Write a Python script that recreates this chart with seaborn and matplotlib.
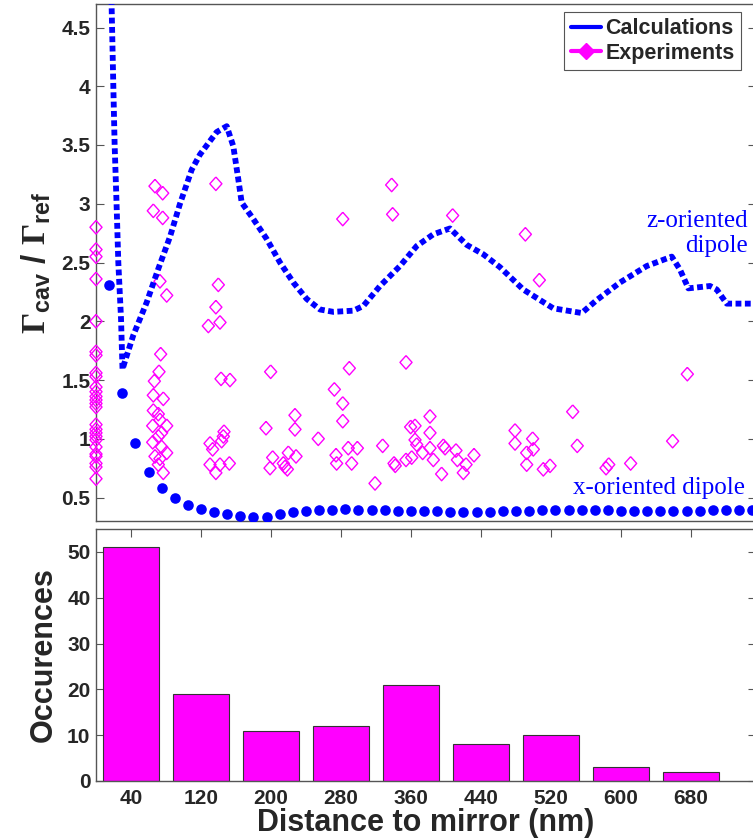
import matplotlib
matplotlib.use("Agg")
import matplotlib.pyplot as plt
from matplotlib.lines import Line2D
import seaborn as sns
import pandas as pd

# z-oriented dipole, calculations (nm, Gamma_cav / Gamma_ref)
z_dist = [16, 17.8, 19.8, 21.3, 23.5, 25.5, 28.6, 30.3, 33.1, 42.6, 57.9, 70.9, 84.6, 96,
          109.4, 118.9, 137.9, 149.4, 156.9, 162.6, 166.5, 179.8, 195.1, 210.3, 225.5,
          240.8, 256, 271.2, 294.1, 305.5, 324.6, 347.4, 366.5, 385.5, 404.6, 423.7,
          442.6, 461.7, 488.3, 522.6, 555.1, 572.2, 598.9, 629.4, 658, 667.4, 677,
          701.7, 709.4, 720.8, 756]
z_rate = [5.6, 4.7, 4.0, 3.5, 3.0, 2.5, 2.02, 1.59, 1.66, 1.88, 2.16, 2.44, 2.72, 3.0,
          3.29, 3.42, 3.61, 3.66, 3.49, 3.21, 3.01, 2.87, 2.70, 2.50, 2.33,
          2.19, 2.10, 2.08, 2.09, 2.13, 2.30, 2.47, 2.64, 2.74, 2.79, 2.65,
          2.57, 2.46, 2.27, 2.11, 2.07, 2.18, 2.33, 2.47, 2.55, 2.44, 2.28,
          2.30, 2.27, 2.15, 2.15]

# x-oriented dipole, calculations
x_dist = [15, 30, 45, 60, 75, 90, 105, 120, 135, 150, 165, 180, 195, 210, 225, 240, 255,
          270, 285, 300, 315, 330, 345, 360, 375, 390, 405, 420, 435, 450, 465, 480,
          495, 510, 525, 540, 555, 570, 585, 600, 615, 630, 645, 660, 675, 690, 705,
          720, 735, 750]
x_rate = [2.31, 1.39, 0.96, 0.715, 0.58, 0.50, 0.44, 0.40, 0.375, 0.358, 0.345, 0.335,
          0.333, 0.36, 0.375, 0.385, 0.39, 0.395, 0.398, 0.397, 0.394, 0.391, 0.388,
          0.385, 0.383, 0.381, 0.38, 0.379, 0.377, 0.379, 0.382, 0.385, 0.389, 0.392,
          0.395, 0.395, 0.395, 0.393, 0.39, 0.386, 0.383, 0.382, 0.382, 0.382, 0.384,
          0.387, 0.391, 0.394, 0.394, 0.394]

# experiments
exp_dist = ([0] * 26 +
            [67.4, 76.2, 65.5, 76.2, 73.1, 80.8, 73.9, 72, 66.7, 65.5, 76.9, 65.5, 71.2,
             73.1, 64.8, 80.8, 75, 71.2, 64.8, 75, 80.8, 67.4, 73.1, 71.2, 76.9] +
            [137, 139.8, 137, 141.7, 128.4, 142.9, 153.1, 130.3, 133.3, 143.6, 145.5,
             146.3, 130.3, 137, 141.7, 152.4] +
            [337.9, 339, 282, 199.6, 289.5, 354.3, 272.4, 282, 227.4, 282, 194.3, 227.4,
             359.6, 364.6, 254, 364.6, 366.5, 201.9, 219.8, 228.6, 198.9, 214.1, 216,
             218.7, 274.3, 275, 288.3, 298.7, 292.2, 327.6, 318.9, 340.6, 342, 354.3,
             360.8] +
            [407.6, 490.7, 506.7, 544.8, 381.7, 381.7, 478.9, 499, 478.9, 550, 381.7, 397,
             398.9, 373.3, 411.4, 432, 385.5, 413, 492.2, 499.8, 492.2, 422.9, 419.8, 395,
             511.2, 518.9] +
            [675.8, 659, 582.9, 586, 611])
exp_rate = ([2.80, 2.61, 2.55, 2.36, 2.0, 1.74, 1.71, 1.56, 1.53, 1.44, 1.40, 1.36, 1.33,
             1.30, 1.27, 1.12, 1.08, 1.05, 1.02, 0.99, 0.93, 0.87, 0.85, 0.79, 0.76, 0.66] +
            [3.15, 3.09, 2.94, 2.88, 2.34, 2.22, 1.72, 1.57, 1.49, 1.37, 1.34, 1.24, 1.21,
             1.16, 1.11, 1.11, 1.05, 1.02, 0.97, 0.93, 0.88, 0.85, 0.83, 0.78, 0.71] +
            [3.17, 2.31, 2.12, 1.99, 1.96, 1.51, 1.50, 0.96, 0.91, 0.98, 1.02, 1.06, 0.78,
             0.71, 0.78, 0.79] +
            [3.16, 2.91, 2.87, 1.57, 1.60, 1.65, 1.42, 1.30, 1.20, 1.15, 1.09, 1.08, 1.10,
             1.11, 1.0, 0.99, 0.95, 0.84, 0.88, 0.85, 0.75, 0.79, 0.76, 0.74, 0.86, 0.79,
             0.92, 0.92, 0.79, 0.94, 0.62, 0.79, 0.77, 0.82, 0.84] +
            [2.90, 2.74, 2.35, 1.23, 1.19, 1.05, 1.07, 1.0, 0.96, 0.94, 0.92, 0.94, 0.92,
             0.88, 0.90, 0.86, 0.82, 0.82, 0.88, 0.91, 0.78, 0.78, 0.71, 0.70, 0.74, 0.77] +
            [1.55, 0.98, 0.75, 0.78, 0.79])

# histogram of experiments
bin_centers = [40, 120, 200, 280, 360, 440, 520, 600, 680]
counts = [51, 19, 11, 12, 21, 8, 10, 3, 2]

sns.set_style("ticks")
plt.rcParams['font.family'] = ['Liberation Sans', 'DejaVu Sans']
plt.rcParams['font.weight'] = 'bold'
plt.rcParams['axes.labelweight'] = 'bold'
plt.rcParams['mathtext.fontset'] = 'custom'
plt.rcParams['mathtext.rm'] = 'Liberation Serif'
plt.rcParams['mathtext.bf'] = 'Liberation Sans:bold'

grey = '#555555'
fig = plt.figure(figsize=(7.53, 8.4), dpi=100)
ax1 = fig.add_axes([96 / 753, 1 - 521 / 840, 660 / 753, 517 / 840])
ax2 = fig.add_axes([96 / 753, 1 - 781 / 840, 660 / 753, 252 / 840])
xmax = 660 / 0.875

zdf = pd.DataFrame({'d': z_dist, 'g': z_rate})
xdf = pd.DataFrame({'d': x_dist, 'g': x_rate})
edf = pd.DataFrame({'d': exp_dist, 'g': exp_rate})

diamond = [(0, 1.12), (1, 0), (0, -1.12), (-1, 0), (0, 1.12)]
sns.scatterplot(data=edf, x='d', y='g', ax=ax1, marker=diamond, s=95,
                facecolor='none', edgecolor='#ff00ff', linewidth=1.0, clip_on=False, zorder=3)
sns.lineplot(data=zdf, x='d', y='g', ax=ax1, color='#0000ff', lw=4.2, sort=False,
             estimator=None, linestyle=(0, (1.0, 0.6)), dash_capstyle='butt', zorder=4)
sns.scatterplot(data=xdf, x='d', y='g', ax=ax1, color='#0000ff', s=58, linewidth=0, zorder=4)

ax1.set_xlim(0, xmax)
ax1.set_ylim(0.3, 4.7)
ax1.set_xticks([])
ax1.set_yticks([0.5, 1, 1.5, 2, 2.5, 3, 3.5, 4, 4.5])
ax1.set_yticklabels(['0.5', '1', '1.5', '2', '2.5', '3', '3.5', '4', '4.5'])
ax1.set_xlabel('')
ax1.set_ylabel(r'$\Gamma_{\mathbf{cav}}$ / $\Gamma_{\mathbf{ref}}$', fontsize=24, labelpad=6)

ax1.text(745, 2.80, 'z-oriented', ha='right', va='baseline', color='#0000ff',
         fontsize=18, family='Liberation Serif', fontweight='normal')
ax1.text(745, 2.59, 'dipole', ha='right', va='baseline', color='#0000ff',
         fontsize=18, family='Liberation Serif', fontweight='normal')
ax1.text(742, 0.534, 'x-oriented dipole', ha='right', va='baseline', color='#0000ff',
         fontsize=18, family='Liberation Serif', fontweight='normal')

handles = [Line2D([0], [0], color='#0000ff', lw=3),
           Line2D([0], [0], color='#ff00ff', lw=3, marker='D', markersize=8)]
leg = ax1.legend(handles, ['Calculations', 'Experiments'], loc='upper right',
                 bbox_to_anchor=(741 / 753, 1 - 12 / 840), bbox_transform=fig.transFigure,
                 borderaxespad=0, fancybox=False, framealpha=1, fontsize=15.5,
                 handlelength=1.4, handletextpad=0.2, borderpad=0.3, labelspacing=0.15)
leg.get_frame().set_edgecolor(grey)
leg.get_frame().set_linewidth(0.8)

bdf = pd.DataFrame({'d': bin_centers, 'n': counts})
sns.barplot(data=bdf, x='d', y='n', ax=ax2, native_scale=True, width=0.8,
            color='#ff00ff', saturation=1, edgecolor='#333333', linewidth=0.8)
ax2.set_xlim(0, xmax)
ax2.set_ylim(0, 55)
ax2.set_xticks(bin_centers)
ax2.set_xticklabels([str(b) for b in bin_centers])
ax2.set_yticks([0, 10, 20, 30, 40, 50])
ax2.set_xlabel('Distance to mirror (nm)', fontsize=22, labelpad=0)
ax2.set_ylabel('Occurences', fontsize=22, labelpad=6)

for ax in (ax1, ax2):
    ax.tick_params(direction='in', length=6, width=0.8, color=grey, labelsize=15,
                   left=True, right=True, pad=4)
    for sp in ax.spines.values():
        sp.set_visible(True)
        sp.set_color(grey)
        sp.set_linewidth(1.0)
ax2.tick_params(axis='x', top=True, bottom=True, pad=6)

fig.savefig('out.png', dpi=100)
